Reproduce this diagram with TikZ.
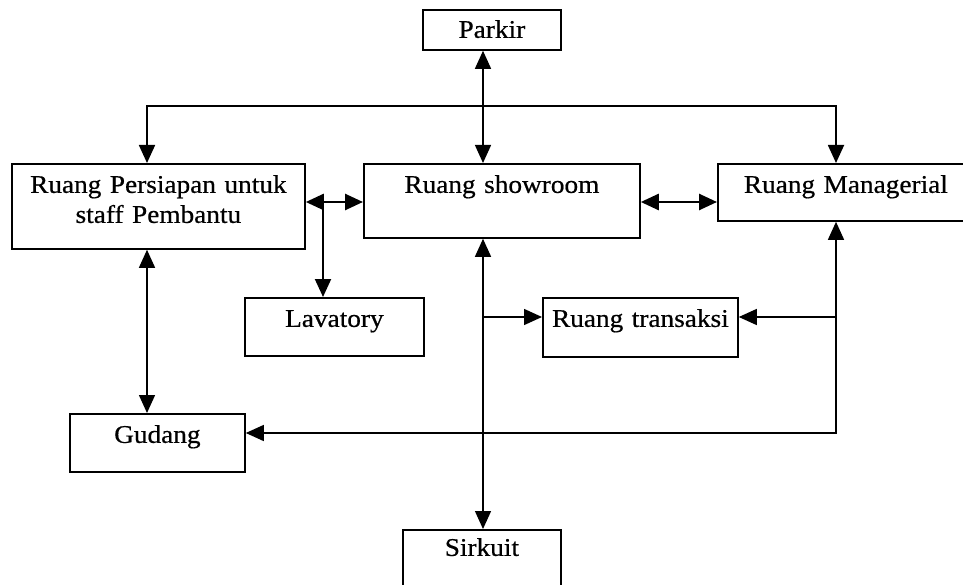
\documentclass[tikz,border=0pt]{standalone}
\usepackage{fontspec}
\setmainfont[FakeStretch=1.07,FakeBold=0.6,WordSpace=0.85]{Liberation Serif}
\usetikzlibrary{arrows.meta}
\begin{document}
\begin{tikzpicture}[x=1pt,y=-1pt,
  box/.style={draw, line width=1.8pt, inner sep=0pt, anchor=north west,
    align=center, font=\fontsize{25.5}{30}\selectfont},
  link/.style={line width=1.4pt},
  heavy/.style={line width=2.6pt},
  >={Triangle[length=18pt,width=16pt]}]
\useasboundingbox (0,0) rectangle (963,585);

% rooms
\node[box, text width=138pt, text height=28pt, text depth=12pt] (parkir) at (422,9) {Parkir};
\node[box, text width=293pt, text height=29pt, text depth=56pt] (persiapan) at (11,163)
  {\begin{tabular}[t]{@{}c@{}}Ruang Persiapan untuk\\staff Pembantu\end{tabular}};
\node[box, text width=276pt, text height=29pt, text depth=45pt] (showroom) at (363,163) {Ruang showroom};
\node[box, text width=256pt, text height=29pt, text depth=28pt] (managerial) at (717,163) {Ruang Managerial};
\node[box, text width=179pt, text height=29pt, text depth=29pt] (lavatory) at (244,297) {Lavatory};
\node[box, text width=195pt, text height=29pt, text depth=30pt] (transaksi) at (542,297) {Ruang transaksi};
\node[box, text width=175pt, text height=29pt, text depth=29pt] (gudang) at (69,413) {Gudang};
\node[box, text width=158pt, text height=26pt, text depth=70pt] (sirkuit) at (402,529) {Sirkuit};

% routing columns and rows
\coordinate (spine) at (483,0);
\coordinate (lcol) at (147,0);
\coordinate (rcol) at (836,0);
\coordinate (lavcol) at (323,0);
\coordinate (bus) at (0,106);
\coordinate (midrow) at (0,202);
\coordinate (trrow) at (0,317);
\coordinate (gdrow) at (0,433);

% connections
\draw[link,<->] (spine |- parkir.south) -- (spine |- showroom.north);
\draw[link,line width=1.8pt,<->] (lcol |- persiapan.north) -- (lcol |- bus) -- (rcol |- bus) -- (rcol |- managerial.north);
\draw[heavy,<->] (persiapan.east |- midrow) -- (showroom.west |- midrow);
\draw[heavy,<->] (showroom.east |- midrow) -- (managerial.west |- midrow);
\draw[link,line width=2pt,->] (lavcol |- midrow) -- (lavcol |- lavatory.north);
\draw[link,<->] (lcol |- persiapan.south) -- (lcol |- gudang.north);
\draw[link,<->] (spine |- showroom.south) -- (spine |- sirkuit.north);
\draw[link,->] (spine |- trrow) -- (transaksi.west |- trrow);
\draw[link,<->] (rcol |- managerial.south) -- (rcol |- gdrow) -- (gudang.east |- gdrow);
\draw[link,->] (rcol |- trrow) -- (transaksi.east |- trrow);
\end{tikzpicture}
\end{document}
